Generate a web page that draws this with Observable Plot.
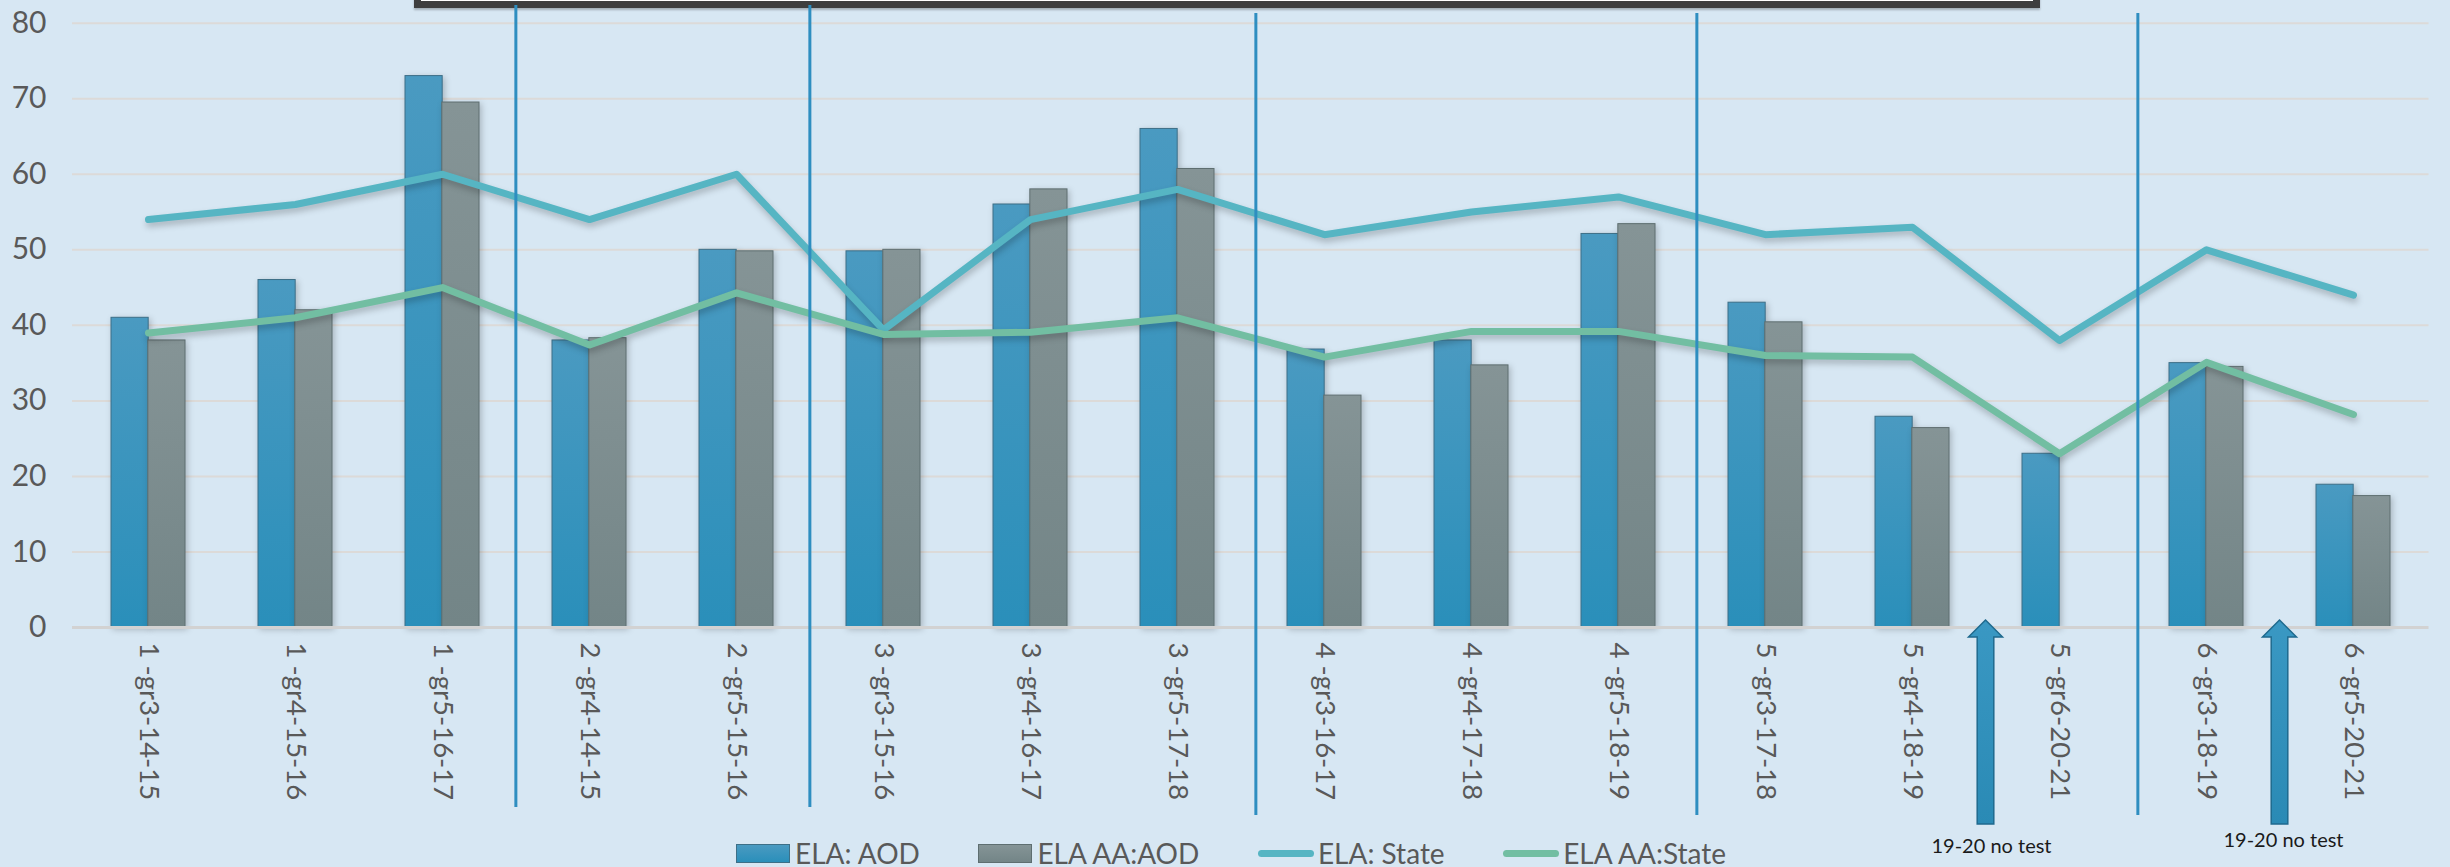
<!DOCTYPE html>
<html>
<head>
<meta charset="utf-8">
<script src="https://cdn.jsdelivr.net/npm/d3@7"></script>
<script src="https://cdn.jsdelivr.net/npm/@observablehq/plot@0.6"></script>
<style>
  html, body { margin: 0; padding: 0; background: #D7E7F3; overflow: hidden; }
  #wrap { position: relative; width: 2450px; height: 867px; }
  #topbox { position: absolute; left: 414px; top: -30px; width: 1626px; height: 38px; box-sizing: border-box;
            border: 7px solid #3E3E3E; background: #ffffff; box-shadow: 0 2px 2px rgba(0,0,0,0.25); }
  #chart { position: absolute; left: 0; top: 0; }
  #legend { position: absolute; left: 736px; width: 990px; top: 838px; height: 30px; display: flex;
            justify-content: space-between; align-items: center; font-family: Lato, "Open Sans", sans-serif;
            font-size: 28px; color: #595959; }
  .item { display: flex; align-items: center; }
  .sw { width: 54px; height: 19px; box-sizing: border-box; margin-right: 5px; }
  .ln { width: 56px; height: 7px; border-radius: 4px; margin-right: 4px; }
</style>
</head>
<body>
<div id="wrap">
  <div id="topbox"></div>
  <div id="chart"></div>
  <div id="legend"></div>
</div>
<script>
// ---- data ----
const categories = [
  "1 -gr3-14-15", "1 -gr4-15-16", "1 -gr5-16-17",
  "2 -gr4-14-15", "2 -gr5-15-16",
  "3 -gr3-15-16", "3 -gr4-16-17", "3 -gr5-17-18",
  "4 -gr3-16-17", "4 -gr4-17-18", "4 -gr5-18-19",
  "5 -gr3-17-18", "5 -gr4-18-19", "5 -gr6-20-21",
  "6 -gr3-18-19", "6 -gr5-20-21"
];
const elaAOD     = [41, 46, 73, 38, 50, 49.8, 56, 66, 36.8, 38, 52.1, 43, 27.9, 23, 35, 18.9];
const elaAAAOD   = [38, 42, 69.5, 38.3, 49.8, 50, 58, 60.7, 30.7, 34.7, 53.4, 40.4, 26.4, null, 34.5, 17.4];
const elaState   = [54, 56, 60, 54, 60, 39.4, 54, 58, 52, 55, 57, 52, 53, 38, 50, 44];
const elaAAState = [39, 41, 45, 37.4, 44.3, 38.8, 39.1, 41, 35.8, 39.2, 39.2, 36, 35.8, 23, 35.1, 28.2];
const yTicks = [0, 10, 20, 30, 40, 50, 60, 70, 80];
const seriesNames = ["ELA: AOD", "ELA AA:AOD", "ELA: State", "ELA AA:State"];
// group separators sit just before these categories
const separatorsA = ["2 -gr4-14-15", "3 -gr3-15-16"];
const separatorsB = ["4 -gr3-16-17", "5 -gr3-17-18", "6 -gr3-18-19"];
// "no test" notes: arrow between this category and the next
const noteAfter = ["5 -gr4-18-19", "6 -gr3-18-19"];
const noteText = "19-20 no test";

const rows = categories.map((c, i) => ({
  cat: c, aod: elaAOD[i], aaAod: elaAAAOD[i], state: elaState[i], aaState: elaAAState[i]
}));

// ---- layout ----
const W = 2450, H = 867;
const mL = 72, mR = 21.5, mT = 22.7, mB = 240;
const step = (W - mL - mR) / categories.length;
const half = step * 0.5 / 2;

const colState = "#56B5C3", colAA = "#72BEA2";

const plot = Plot.plot({
  width: W, height: H,
  marginLeft: mL, marginRight: mR, marginTop: mT, marginBottom: mB,
  style: { background: "transparent", fontFamily: "Lato, 'Open Sans', sans-serif", color: "#595959", overflow: "visible" },
  x: { type: "band", domain: categories, paddingInner: 0.5, paddingOuter: 0.25 },
  y: { domain: [0, 80] },
  marks: [
    Plot.ruleY(yTicks.filter(d => d > 0), { stroke: "#DCDAD8", strokeWidth: 2 }),
    Plot.axisY({ ticks: yTicks, tickSize: 0, tickPadding: 26, fontSize: 30, label: null, fill: "#595959" }),
    Plot.axisX({ tickSize: 0, tickRotate: 90, tickPadding: 15, fontSize: 27.5, label: null, fill: "#595959" }),
    Plot.barY(rows, { x: "cat", y: "aod", fill: "url(#gBlue)", stroke: "#3D6F87", strokeWidth: 1, insetRight: half }),
    Plot.barY(rows.filter(d => d.aaAod != null), { x: "cat", y: "aaAod", fill: "url(#gGray)", stroke: "#5E6E70", strokeWidth: 1, insetLeft: half }),
    Plot.ruleY([0], { stroke: "#D2D2D2", strokeWidth: 3 }),
    Plot.lineY(rows, { x: "cat", y: "state", stroke: colState, strokeWidth: 7, strokeLinecap: "round", strokeLinejoin: "round" }),
    Plot.lineY(rows, { x: "cat", y: "aaState", stroke: colAA, strokeWidth: 7, strokeLinecap: "round", strokeLinejoin: "round" }),
    Plot.ruleX(separatorsA, { x: d => d, dx: -step / 2, stroke: "#2E8EC0", strokeWidth: 3, insetTop: -17.7, insetBottom: -180 }),
    Plot.ruleX(separatorsB, { x: d => d, dx: -step / 2 + 5, stroke: "#2E8EC0", strokeWidth: 3, insetTop: -9.7, insetBottom: -188 })
  ]
});

// gradients & shadows
const svg = d3.select(plot);
const defs = svg.insert("defs", ":first-child");
const g1 = defs.append("linearGradient").attr("id", "gBlue").attr("x1", 0).attr("y1", 0).attr("x2", 0).attr("y2", 1);
g1.append("stop").attr("offset", "0%").attr("stop-color", "#4A9AC1");
g1.append("stop").attr("offset", "100%").attr("stop-color", "#2A8FBA");
const g2 = defs.append("linearGradient").attr("id", "gGray").attr("x1", 0).attr("y1", 0).attr("x2", 0).attr("y2", 1);
g2.append("stop").attr("offset", "0%").attr("stop-color", "#859496");
g2.append("stop").attr("offset", "100%").attr("stop-color", "#738587");
const ga = defs.append("linearGradient").attr("id", "gArrow").attr("x1", 0).attr("y1", 0).attr("x2", 0).attr("y2", 1);
ga.append("stop").attr("offset", "0%").attr("stop-color", "#3A98C3");
ga.append("stop").attr("offset", "100%").attr("stop-color", "#2A8AB5");
svg.selectAll('g[aria-label="bar"]').style("filter", "drop-shadow(2px 2px 3px rgba(0,0,0,0.22))");
svg.selectAll('g[aria-label="line"]').style("filter", "drop-shadow(1px 4px 3px rgba(0,0,0,0.22))");

// arrows + notes, positioned with the plot's own scales
const xs = plot.scale("x"), ys = plot.scale("y");
const y0 = ys.apply(0);
const notes = svg.append("g").attr("aria-label", "notes");
noteAfter.forEach((c, i) => {
  const j = categories.indexOf(c);
  const cx = (xs.apply(categories[j]) + xs.apply(categories[j + 1])) / 2 + xs.bandwidth / 2;
  const pts = [[cx, y0 - 7], [cx + 17, y0 + 10], [cx + 8.3, y0 + 10], [cx + 8.3, y0 + 197],
               [cx - 8.3, y0 + 197], [cx - 8.3, y0 + 10], [cx - 17, y0 + 10]];
  notes.append("polygon").attr("points", pts.map(p => p.join(",")).join(" "))
    .attr("fill", "url(#gArrow)").attr("stroke", "#1F6A8E").attr("stroke-width", 1.5);
  notes.append("text").attr("x", cx + (i === 0 ? 6 : 4)).attr("y", y0 + (i === 0 ? 226 : 220))
    .attr("text-anchor", "middle").attr("font-size", 20).attr("fill", "#1A1A1A")
    .attr("font-family", "Lato, 'Open Sans', sans-serif").text(noteText);
});

document.getElementById("chart").appendChild(plot);

// legend
const legend = d3.select("#legend");
const kinds = [
  { name: seriesNames[0], type: "bar", fill: "linear-gradient(#4A9AC1, #2A8FBA)", stroke: "#3D6F87" },
  { name: seriesNames[1], type: "bar", fill: "linear-gradient(#859496, #738587)", stroke: "#5E6E70" },
  { name: seriesNames[2], type: "line", fill: colState },
  { name: seriesNames[3], type: "line", fill: colAA }
];
kinds.forEach(k => {
  const it = legend.append("div").attr("class", "item");
  if (k.type === "bar") it.append("div").attr("class", "sw").style("background", k.fill).style("border", `1px solid ${k.stroke}`);
  else it.append("div").attr("class", "ln").style("background", k.fill);
  it.append("span").text(k.name);
});
</script>
</body>
</html>
